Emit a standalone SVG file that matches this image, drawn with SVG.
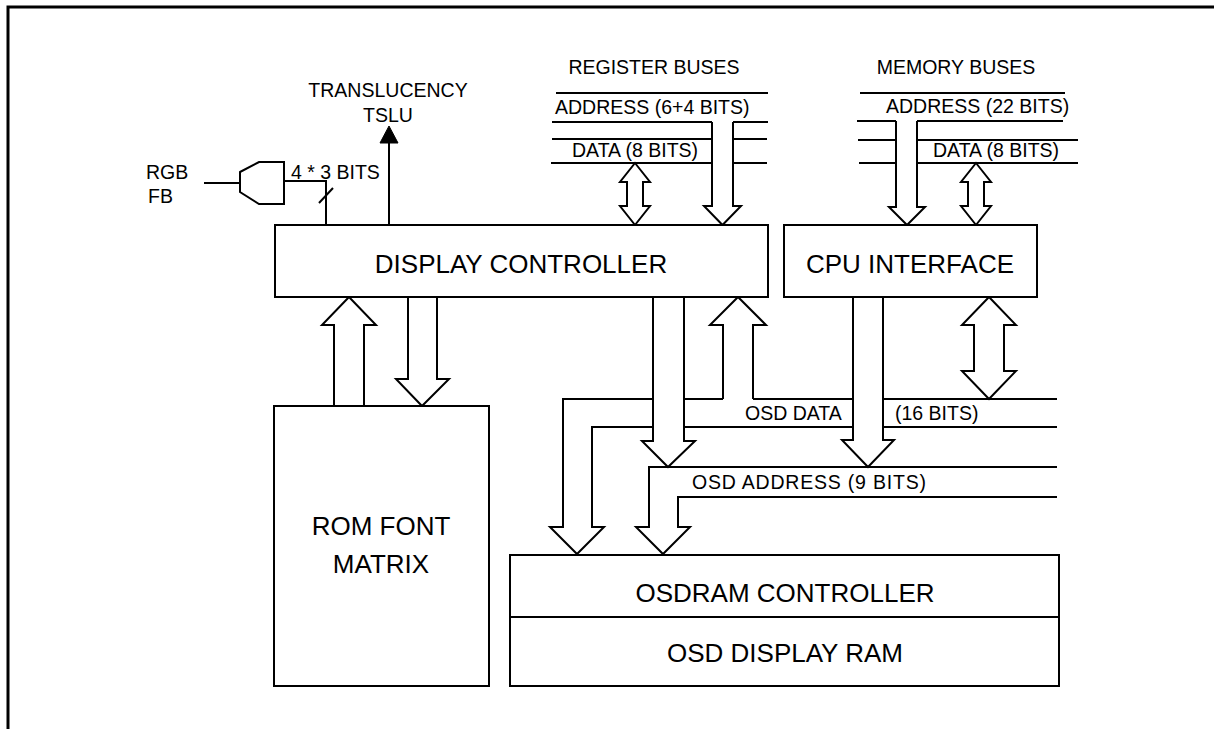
<svg xmlns="http://www.w3.org/2000/svg" width="1214" height="729" viewBox="0 0 1214 729">
<style>
.ln{fill:none;stroke:#000;stroke-width:2}
.ar{fill:#fff;stroke:#000;stroke-width:2;stroke-linejoin:miter}
.box{fill:#fff;stroke:#000;stroke-width:2}
.big{font-family:"Liberation Sans",Arial,sans-serif;font-size:26px;fill:#000}
.sm{font-family:"Liberation Sans",Arial,sans-serif;font-size:19.5px;fill:#000}
.mid{text-anchor:middle}
</style>
<rect width="1214" height="729" fill="#fff"/>
<path d="M8,729 V7 H1214" fill="none" stroke="#000" stroke-width="3"/>

<g id="connectors">
  <!-- RGB gate -->
  <path class="ln" d="M204,183 H240"/>
  <path class="ln" d="M240,172 L259,162 H284 V204 H259 L240,192 Z"/>
  <path class="ln" d="M283,181 H326 V225"/>
  <path class="ln" d="M319,203 L333,188"/>
  <!-- translucency -->
  <path class="ln" d="M389,225 V140"/>
  <polygon points="380,143 389,126 398,143" fill="#000" stroke="#000" stroke-width="1"/>
  <!-- register buses -->
  <path class="ln" d="M556,93 H768 M552,122 H712 M733,122 H768 M552,139 H712 M733,139 H767 M551,163 H712 M733,163 H767"/>
  <path class="ar" d="M635,163 L650,182 L643,182 L643,206 L650,206 L635,225 L620,206 L627,206 L627,182 L620,182 Z"/>
  <path class="ar" d="M712,122 V206 H704 L722.5,225 L741,206 H733 V122"/>
  <!-- memory buses -->
  <path class="ln" d="M860,93 H1065 M857,121 H896 M917,121 H1063 M858,140 H896 M917,140 H1078 M859,163 H896 M917,163 H1078"/>
  <path class="ar" d="M896,121 V207 H889 L907,225 L925,207 H917 V121"/>
  <path class="ar" d="M976,163 L991,182 L984,182 L984,206 L991,206 L976,225 L961,206 L968,206 L968,182 L961,182 Z"/>
  <!-- display controller / ROM -->
  <path class="ar" d="M334,406 V325 H322 L349,297 L376,325 H364 V406"/>
  <path class="ar" d="M408,297 V379 H396 L422,406 L449,379 H437 V297"/>
  <!-- OSD data bus -->
  <path class="ln" d="M684,399 H723 M753,399 H853 M883,399 H1057 M684,427 H853 M883,427 H1057"/>
  <path class="ln" d="M653,399 H563 V527 H550 L577,554 L604,527 H592 V427 H653"/>
  <!-- OSD address bus -->
  <path class="ln" d="M1057,467 H649 V527 H636 L663,554 L690,527 H678 V497 H1057"/>
  <!-- vertical arrows -->
  <path class="ar" d="M653,297 V441 H642 L668,467 L695,441 H684 V297"/>
  <path class="ar" d="M723,399 V325 H710 L738,297 L766,325 H753 V399"/>
  <path class="ar" d="M853,297 V440 H842 L868,467 L894,440 H883 V297"/>
  <path class="ar" d="M989,297 L1016,325 H1004 V371 H1016 L989,399 L962,371 H974 V325 H962 Z"/>
</g>

<g id="labels">
  <text class="sm" x="146" y="179">RGB</text>
  <text class="sm" x="148" y="203">FB</text>
  <text class="sm" x="291" y="179">4 * 3 BITS</text>
  <text class="sm mid" x="388" y="97">TRANSLUCENCY</text>
  <text class="sm mid" x="388" y="122">TSLU</text>
  <text class="sm mid" x="654" y="74">REGISTER BUSES</text>
  <text class="sm" x="555" y="114">ADDRESS (6+4 BITS)</text>
  <text class="sm" x="572" y="157">DATA (8 BITS)</text>
  <text class="sm mid" x="956" y="74">MEMORY BUSES</text>
  <text class="sm" x="886" y="113">ADDRESS (22 BITS)</text>
  <text class="sm" x="933" y="157">DATA (8 BITS)</text>
  <text class="sm" x="745" y="420">OSD DATA</text>
  <text class="sm" x="895" y="420">(16 BITS)</text>
  <text class="sm" x="692" y="489" textLength="234" lengthAdjust="spacing">OSD ADDRESS (9 BITS)</text>
</g>

<g id="display-controller">
  <rect class="box" x="275" y="225" width="493" height="72"/>
  <text class="big mid" x="521" y="273">DISPLAY CONTROLLER</text>
</g>
<g id="cpu-interface">
  <rect class="box" x="784" y="225" width="253" height="72"/>
  <text class="big mid" x="910" y="273">CPU INTERFACE</text>
</g>
<g id="rom-font-matrix">
  <rect class="box" x="274" y="406" width="215" height="280"/>
  <text class="big mid" x="381" y="535">ROM FONT</text>
  <text class="big mid" x="381" y="573">MATRIX</text>
</g>
<g id="osdram">
  <rect class="box" x="510" y="555" width="549" height="131"/>
  <line class="ln" x1="510" y1="617" x2="1059" y2="617"/>
  <text class="big mid" x="785" y="602">OSDRAM CONTROLLER</text>
  <text class="big mid" x="785" y="662">OSD DISPLAY RAM</text>
</g>
</svg>
